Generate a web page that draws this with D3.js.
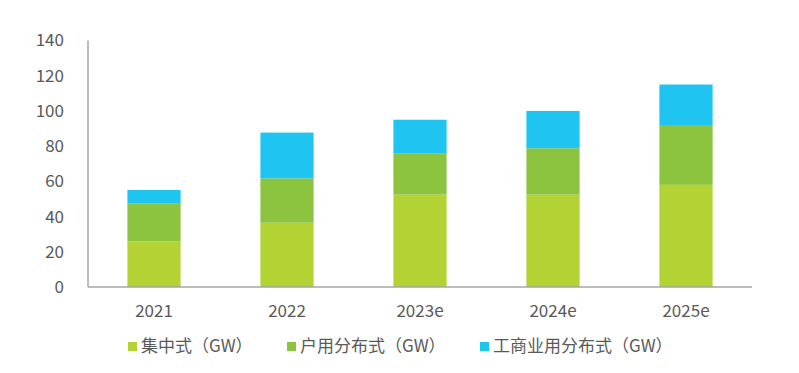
<!DOCTYPE html>
<meta charset="utf-8">
<style>
body { margin: 0; background: #fff; }
svg text { font-family: "Noto Sans CJK SC", "Open Sans", sans-serif; fill: #595959; }
</style>
<svg width="799" height="373"></svg>
<script src="https://cdn.jsdelivr.net/npm/d3@7"></script>
<script>

var years = ["2021", "2022", "2023e", "2024e", "2025e"];
var centralized = [26, 36.5, 52.5, 52.5, 58];
var household = [21.3, 25.2, 23.5, 26.3, 34];
var commercial = [7.8, 26, 19, 21.2, 23];
var seriesNames = ["集中式（GW）", "户用分布式（GW）", "工商业用分布式（GW）"];
var yTicks = [0, 20, 40, 60, 80, 100, 120, 140];

var colors = ["#b3d334", "#8dc43f", "#1fc5f0"];

var svg = d3.select("svg");

var rows = years.map(function(y, i) {
  return {year: y, a: centralized[i], b: household[i], c: commercial[i]};
});

var stack = d3.stack().keys(["a", "b", "c"])(rows);

var x = d3.scaleBand()
    .domain(years)
    .range([87.5, 752.5])
    .paddingInner(0.6)
    .paddingOuter(0.3);

var y = d3.scaleLinear()
    .domain([0, 140])
    .range([287, 40.5]);

// y axis: line plus labels only
svg.append("line")
    .attr("x1", 88).attr("x2", 88)
    .attr("y1", y(140)).attr("y2", y(0))
    .attr("stroke", "#a6a6a6")
    .attr("stroke-width", 1.5);

svg.append("g").selectAll("text")
    .data(yTicks)
  .enter().append("text")
    .attr("x", 64)
    .attr("y", function(d) { return y(d); })
    .attr("dy", "0.35em")
    .attr("text-anchor", "end")
    .style("font-size", "17px")
    .text(function(d) { return d; });

// bars
svg.append("g").selectAll("g")
    .data(stack)
  .enter().append("g")
    .attr("fill", function(d, i) { return colors[i]; })
  .selectAll("rect")
    .data(function(d) { return d; })
  .enter().append("rect")
    .attr("x", function(d) { return x(d.data.year); })
    .attr("width", x.bandwidth())
    .attr("y", function(d) { return y(d[1]); })
    .attr("height", function(d) { return y(d[0]) - y(d[1]); });

// x axis baseline
svg.append("line")
    .attr("x1", 88).attr("x2", 752)
    .attr("y1", y(0)).attr("y2", y(0))
    .attr("stroke", "#a6a6a6")
    .attr("stroke-width", 1.5);

svg.append("g").selectAll("text")
    .data(years)
  .enter().append("text")
    .attr("x", function(d) { return x(d) + x.bandwidth() / 2; })
    .attr("y", 311)
    .attr("dy", "0.35em")
    .attr("text-anchor", "middle")
    .style("font-size", "17px")
    .text(function(d) { return d; });

// legend
var legendX = [128, 287, 480];
var legend = svg.append("g").selectAll("g")
    .data(seriesNames)
  .enter().append("g")
    .attr("transform", function(d, i) { return "translate(" + legendX[i] + ",346)"; });

legend.append("rect")
    .attr("x", 0).attr("y", -4)
    .attr("width", 9).attr("height", 9)
    .attr("fill", function(d, i) { return colors[i]; });

legend.append("text")
    .attr("x", 13)
    .attr("y", 0)
    .attr("dy", "0.35em")
    .style("font-size", "17px")
    .text(function(d) { return d; });

</script>
